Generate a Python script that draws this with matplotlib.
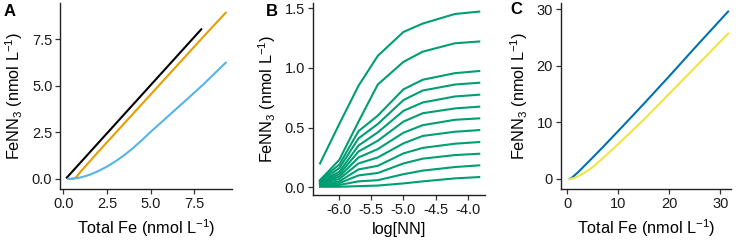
import matplotlib
matplotlib.use("Agg")
import matplotlib.pyplot as plt

plt.rcParams['font.family'] = ['Liberation Sans', 'DejaVu Sans']
plt.rcParams['mathtext.default'] = 'regular'

# ---- Panel A data ----
a_black_x = [0.2, 7.9]
a_black_y = [0.07, 8.02]
a_orange_x = [0.3, 0.5, 0.7, 1.0, 2.0, 4.0, 6.0, 8.0, 9.3]
a_orange_y = [0.0, 0.0, 0.05, 0.4, 1.45, 3.5, 5.55, 7.6, 8.91]
a_blue_x = [0.3, 0.6, 1.0, 1.5, 2.0, 2.5, 3.0, 3.5, 4.0, 4.5, 5.0, 6.0, 7.0, 8.0, 9.3]
a_blue_y = [0.0, 0.02, 0.08, 0.22, 0.42, 0.66, 0.95, 1.28, 1.66, 2.08, 2.52, 3.36, 4.20, 5.05, 6.23]

# ---- Panel B data ----
b_lognn = [-6.3, -6.0, -5.7, -5.4, -5.0, -4.7, -4.2, -3.82]
b_series = [
    [0.20, 0.53, 0.85, 1.10, 1.30, 1.37, 1.45, 1.47],
    [0.06, 0.23, 0.55, 0.86, 1.05, 1.135, 1.205, 1.22],
    [0.06, 0.19, 0.47, 0.60, 0.82, 0.90, 0.955, 0.973],
    [0.05, 0.16, 0.41, 0.53, 0.73, 0.81, 0.86, 0.875],
    [0.045, 0.13, 0.35, 0.46, 0.64, 0.71, 0.76, 0.775],
    [0.04, 0.11, 0.30, 0.39, 0.55, 0.62, 0.66, 0.675],
    [0.035, 0.09, 0.25, 0.32, 0.457, 0.52, 0.565, 0.577],
    [0.03, 0.07, 0.20, 0.25, 0.368, 0.43, 0.465, 0.479],
    [0.02, 0.05, 0.15, 0.18, 0.284, 0.33, 0.365, 0.379],
    [0.015, 0.035, 0.10, 0.12, 0.20, 0.24, 0.27, 0.281],
    [0.01, 0.02, 0.05, 0.06, 0.11, 0.14, 0.17, 0.184],
    [0.005, 0.005, 0.01, 0.015, 0.033, 0.05, 0.075, 0.086],
]

# ---- Panel C data ----
c_blue_x = [0.5, 1.0, 2.0, 4.0, 6.4, 10.0, 15.0, 20.0, 25.0, 31.5]
c_blue_y = [0.0, 0.3, 1.1, 2.9, 5.1, 8.5, 13.3, 18.2, 23.2, 29.6]
c_yellow_x = [0.5, 1.5, 3.0, 5.0, 8.7, 10.0, 15.0, 20.0, 25.0, 31.5]
c_yellow_y = [0.0, 0.2, 0.9, 2.1, 5.1, 6.2, 10.5, 15.1, 19.7, 25.7]

W, H = 743, 241
fig = plt.figure(figsize=(W / 100, H / 100), dpi=100)

def add_ax(l, r, t, b):
    return fig.add_axes([l / W, 1 - b / H, (r - l) / W, (b - t) / H])

def style(ax):
    for s in ['top', 'right']:
        ax.spines[s].set_visible(False)
    for s in ['left', 'bottom']:
        ax.spines[s].set_linewidth(1.0)
        ax.spines[s].set_color('#222222')
    ax.tick_params(axis='both', length=3.5, width=0.9, color='#333333',
                   labelsize=10.5, pad=2, labelcolor='#1a1a1a')

ylab = 'FeNN$_3$ (nmol L$^{-1}$)'
xlab = 'Total Fe (nmol L$^{-1}$)'
lw = 1.5
lfs = 11.7

# Panel A
axA = add_ax(60, 232, 3, 189)
style(axA)
axA.plot(a_black_x, a_black_y, color='black', lw=lw)
axA.plot(a_orange_x, a_orange_y, color='#E69F00', lw=lw)
axA.plot(a_blue_x, a_blue_y, color='#56B4E9', lw=lw)
axA.set_xlim(-0.19, 9.66)
axA.set_ylim(-0.54, 9.43)
axA.set_xticks([0, 2.5, 5, 7.5])
axA.set_xticklabels(['0.0', '2.5', '5.0', '7.5'])
axA.set_yticks([0, 2.5, 5, 7.5])
axA.set_yticklabels(['0.0', '2.5', '5.0', '7.5'])
axA.set_xlabel(xlab, fontsize=lfs, labelpad=5)
axA.set_ylabel(ylab, fontsize=lfs, labelpad=5)
fig.text(10 / W, 1 - 12 / H, 'A', fontsize=12, fontweight='bold', va='center', ha='center')

# Panel B
axB = add_ax(312.7, 485, 3, 195)
style(axB)
for s in b_series:
    axB.plot(b_lognn, s, color='#009E73', lw=lw)
axB.set_xlim(-6.414, -3.73)
axB.set_ylim(-0.064, 1.542)
axB.set_xticks([-6.0, -5.5, -5.0, -4.5, -4.0])
axB.set_xticklabels(['-6.0', '-5.5', '-5.0', '-4.5', '-4.0'])
axB.set_yticks([0, 0.5, 1.0, 1.5])
axB.set_yticklabels(['0.0', '0.5', '1.0', '1.5'])
axB.set_xlabel('log[NN]', fontsize=lfs, labelpad=4)
axB.set_ylabel(ylab, fontsize=lfs, labelpad=5)
fig.text(272 / W, 1 - 11 / H, 'B', fontsize=12, fontweight='bold', va='center', ha='center')

# Panel C
axC = add_ax(560.7, 730.7, 3, 189)
style(axC)
axC.plot(c_blue_x, c_blue_y, color='#0072B2', lw=lw)
axC.plot(c_yellow_x, c_yellow_y, color='#F0E442', lw=lw)
axC.set_xlim(-1.29, 32.0)
axC.set_ylim(-1.77, 31.1)
axC.set_xticks([0, 10, 20, 30])
axC.set_yticks([0, 10, 20, 30])
axC.set_xlabel(xlab, fontsize=lfs, labelpad=5)
axC.set_ylabel(ylab, fontsize=lfs, labelpad=5)
fig.text(516 / W, 1 - 9 / H, 'C', fontsize=12, fontweight='bold', va='center', ha='center')

fig.savefig('out.png', dpi=100)
